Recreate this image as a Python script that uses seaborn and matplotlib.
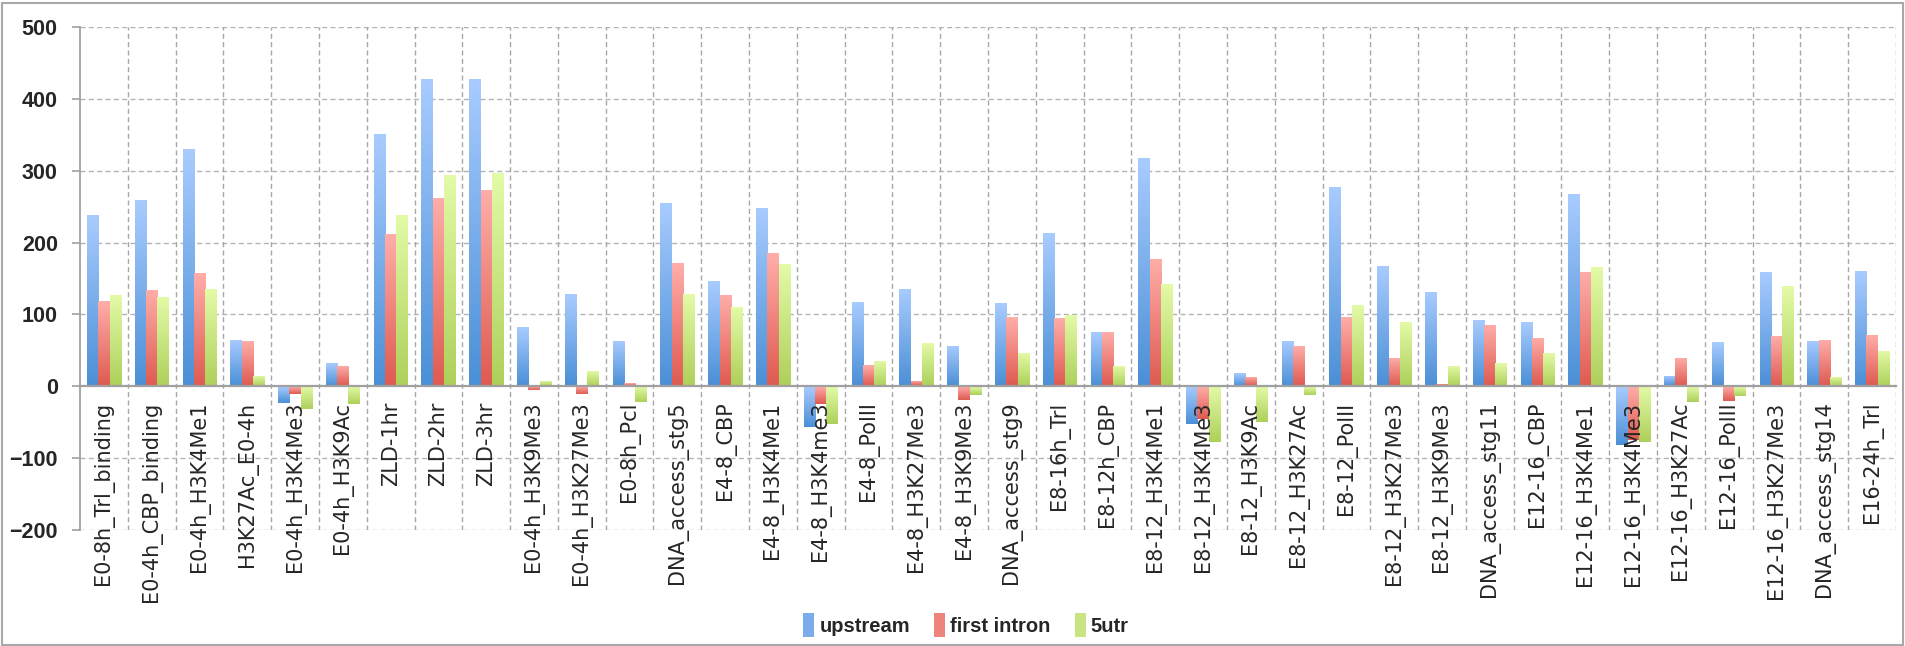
import numpy as np
import pandas as pd
import matplotlib
matplotlib.use("Agg")
import matplotlib.pyplot as plt
import seaborn as sns
from matplotlib.colors import LinearSegmentedColormap, to_hex
from matplotlib.patches import Patch, Rectangle

categories = [
    "E0-8h_Trl_binding", "E0-4h_CBP_binding", "E0-4h_H3K4Me1", "H3K27Ac_E0-4h",
    "E0-4h_H3K4Me3", "E0-4h_H3K9Ac", "ZLD-1hr", "ZLD-2hr", "ZLD-3hr",
    "E0-4h_H3K9Me3", "E0-4h_H3K27Me3", "E0-8h_Pcl", "DNA_access_stg5",
    "E4-8_CBP", "E4-8_H3K4Me1", "E4-8_H3K4me3", "E4-8_PolII", "E4-8_H3K27Me3",
    "E4-8_H3K9Me3", "DNA_access_stg9", "E8-16h_Trl", "E8-12h_CBP",
    "E8-12_H3K4Me1", "E8-12_H3K4Me3", "E8-12_H3K9Ac", "E8-12_H3K27Ac",
    "E8-12_PolII", "E8-12_H3K27Me3", "E8-12_H3K9Me3", "DNA_access_stg11",
    "E12-16_CBP", "E12-16_H3K4Me1", "E12-16_H3K4Me3", "E12-16_H3K27Ac",
    "E12-16_PolII", "E12-16_H3K27Me3", "DNA_access_stg14", "E16-24h_Trl",
]
upstream = [238, 259, 330, 65, -23, 32, 351, 428, 428, 82, 128, 63, 255, 146,
            248, -56, 117, 135, 56, 116, 214, 75, 318, -53, 18, 63, 277, 168,
            131, 92, 89, 267, -82, 15, 61, 159, 63, 160]
first_intron = [118, 134, 157, 63, -11, 28, 212, 262, 273, -5, -11, 4, 171, 127,
                185, -25, 29, 7, -19, 96, 95, 75, 177, -45, 13, 56, 96, 39,
                3, 85, 67, 159, -75, 40, -20, 70, 65, 71]
utr5 = [127, 124, 136, 14, -32, -25, 238, 294, 297, 7, 21, -22, 129, 110,
        170, -52, 35, 60, -12, 47, 99, 28, 142, -78, -50, -12, 113, 90,
        28, 32, 46, 166, -78, -22, -13, 139, 13, 49]
series_names = ["upstream", "first intron", "5utr"]
yticks = [-200, -100, 0, 100, 200, 300, 400, 500]

df = pd.DataFrame({
    "category": categories * 3,
    "value": upstream + first_intron + utr5,
    "series": [series_names[0]] * len(categories) + [series_names[1]] * len(categories)
              + [series_names[2]] * len(categories),
})

grad = {
    "upstream": ("#a9ccff", "#4b8fd6"),
    "first intron": ("#ffaeaa", "#de5a50"),
    "5utr": ("#e4fba8", "#add05a"),
}
mid = {k: to_hex(LinearSegmentedColormap.from_list("m", v)(0.5)) for k, v in grad.items()}

sns.set_style("white")
plt.rcParams["font.family"] = ["DejaVu Sans"]

fig = plt.figure(figsize=(19.05, 6.46), dpi=100)
ax = fig.add_axes([80 / 1905, 1 - 530 / 646, (1896 - 80) / 1905, (530 - 27) / 646])

sns.barplot(data=df, x="category", y="value", hue="series", order=categories,
            hue_order=series_names, palette=mid, width=0.71, saturation=1,
            ax=ax, legend=False, edgecolor="none")

ax.set_xlim(-0.5, len(categories) - 0.5)
ax.set_ylim(-200, 500)

# gradient fill
mid_lookup = {mid[k]: k for k in mid}
for p in list(ax.patches):
    fc = to_hex(p.get_facecolor())
    name = mid_lookup.get(fc)
    if name is None:
        continue
    x0, y0 = p.get_x(), p.get_y()
    w, h = p.get_width(), p.get_height()
    if h == 0:
        continue
    ylo, yhi = min(y0, y0 + h), max(y0, y0 + h)
    cmap = LinearSegmentedColormap.from_list(name, [grad[name][1], grad[name][0]])
    g = np.linspace(0, 1, 256).reshape(-1, 1)
    im = ax.imshow(g, cmap=cmap, aspect="auto", origin="lower",
                   extent=[x0, x0 + w, ylo, yhi], zorder=1.8, interpolation="bicubic")
    im.set_clip_path(p)
    p.set_facecolor("none")
    p.set_zorder(1.8)

ax.set_axisbelow(False)
ax.set_xlim(-0.5, len(categories) - 0.5)
ax.set_ylim(-200, 500)
ax.set_yticks(yticks)
ax.set_xlabel("")
ax.set_ylabel("")

# grid
dash = (0, (3.6, 2.4))
ax.set_xticks(np.arange(len(categories)) + 0.5, minor=True)
ax.grid(False)
for y in yticks:
    if y != 0:
        ax.axhline(y, color="#b3b3b3", lw=1.0, ls=dash, zorder=1)
for x in np.arange(len(categories)) + 0.5:
    ax.axvline(x, color="#a6a6a6", lw=1.0, ls=dash, zorder=1)

for s in ["top", "right"]:
    ax.spines[s].set_visible(False)
ax.spines["bottom"].set_position(("data", 0))
ax.spines["bottom"].set_color("#a0a0a0")
ax.spines["bottom"].set_linewidth(1.6)
ax.spines["left"].set_color("#a0a0a0")
ax.spines["left"].set_linewidth(1.3)

ax.tick_params(axis="x", which="major", length=0, pad=11, labelsize=15, labelrotation=90)
ax.tick_params(axis="x", which="minor", length=6, width=1.2, color="#a0a0a0", direction="out")
ax.tick_params(axis="y", which="major", length=6, width=1.2, color="#a0a0a0", pad=10,
               left=True)
for lab in ax.get_xticklabels():
    lab.set_verticalalignment("top")
    lab.set_horizontalalignment("center")
for lab in ax.get_yticklabels():
    lab.set_fontfamily("Liberation Sans")
    lab.set_fontweight("bold")
    lab.set_fontsize(15.5)

handles = [Patch(facecolor=mid[n], edgecolor="none", label=n) for n in series_names]
fig.legend(handles=handles, loc="center", bbox_to_anchor=(966 / 1905, 1 - 625 / 646),
           ncol=3, frameon=False, handlelength=0.55, handleheight=1.4, handletextpad=0.25,
           columnspacing=1.2, prop={"family": "Liberation Sans", "weight": "bold", "size": 14.5})

fig.add_artist(Rectangle((0.0008, 0.0015), 0.998, 1 - 4 / 646, transform=fig.transFigure,
                         fill=False, edgecolor="#a8a8a8", lw=1.5))

fig.savefig("out.png", dpi=100)
